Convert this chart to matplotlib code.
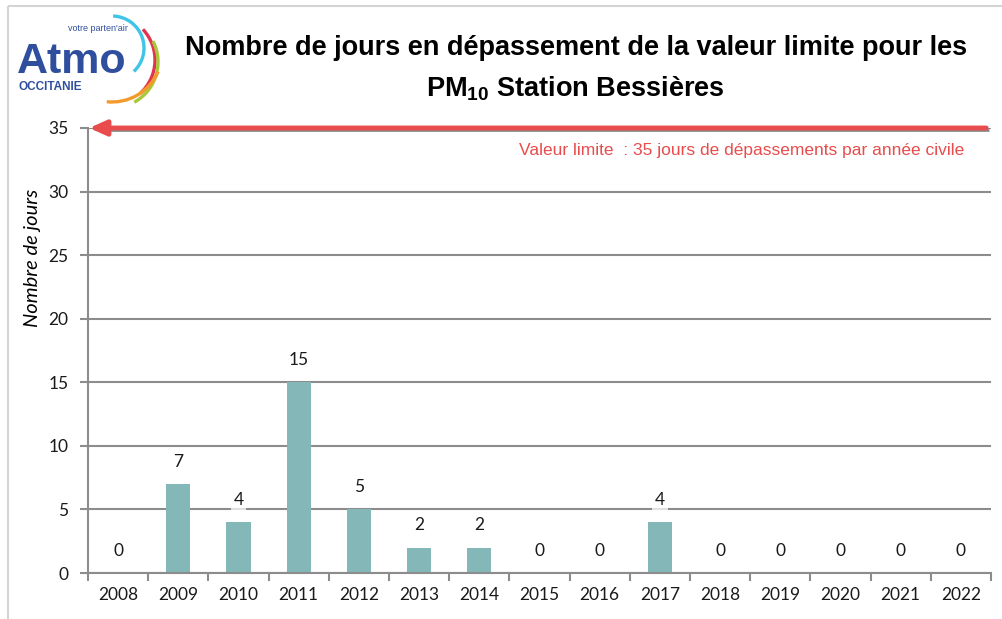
import matplotlib.pyplot as plt
from matplotlib.patches import Arc, Rectangle

plt.rcParams['mathtext.fontset'] = 'custom'
plt.rcParams['mathtext.bf'] = 'Liberation Sans:bold'
plt.rcParams['mathtext.rm'] = 'Liberation Sans'

# données : nombre de jours de dépassement PM10, station Bessières
annees = ['2008', '2009', '2010', '2011', '2012', '2013', '2014', '2015',
          '2016', '2017', '2018', '2019', '2020', '2021', '2022']
jours = [0, 7, 4, 15, 5, 2, 2, 0, 0, 4, 0, 0, 0, 0, 0]
valeur_limite = 35
yticks = [0, 5, 10, 15, 20, 25, 30, 35]

W, H = 1003, 619
fig = plt.figure(figsize=(W / 100, H / 100), dpi=100)

gris = '#8c8c8c'
rouge = '#e84c4c'
teal = '#84b8b8'
bleu = '#2f4f9e'

# cadre de fond
deco = fig.add_axes([0, 0, 1, 1])
deco.set_xlim(0, W)
deco.set_ylim(H, 0)
deco.axis('off')
deco.add_patch(Rectangle((8, 6), W, H, fill=False, ec='#d4d4d4', lw=1.5))

# logo Atmo Occitanie
deco.text(17, 73, 'Atmo', color=bleu, fontsize=31, fontweight='bold',
          family='Liberation Sans', va='baseline')
deco.text(19, 90, 'OCCITANIE', color=bleu, fontsize=8.5, fontweight='bold',
          family='Liberation Sans', va='baseline')
deco.text(128, 31, "votre parten'air", color=bleu, fontsize=6.5,
          family='Liberation Sans', ha='right', va='baseline')
# arcs colorés (centre, rayon, angle début, angle fin, couleur)
arcs = [((112, 48), 32, -47, 88, '#3ec4e8'),
        ((110, 60), 45, -48, 43, '#e2344f'),
        ((112, 62), 46, -61, 27, '#a8c83a'),
        ((112, 52), 50, -96, -23, '#f39a2b')]
for (cx, cy), r, t1, t2, c in arcs:
    deco.add_patch(Arc((cx, cy), 2 * r, 2 * r, theta1=-t2, theta2=-t1,
                       color=c, lw=2.4))

# titre
fig.text(0.574, 0.922, 'Nombre de jours en dépassement de la valeur limite pour les',
         ha='center', va='center', fontsize=19.5, fontweight='bold',
         family='Liberation Sans')
fig.text(0.574, 0.857, r'PM$_{\mathbf{10}}$ Station Bessières',
         ha='center', va='center', fontsize=19.5, fontweight='bold',
         family='Liberation Sans')

ax = fig.add_axes([88 / W, 1 - 573 / H, (991 - 88) / W, (573 - 128) / H])
x = list(range(len(annees)))
ax.bar(x, jours, width=0.4, color=teal, zorder=2)

ax.set_xlim(-0.5, len(annees) - 0.5)
ax.set_ylim(0, 35)
ax.set_yticks(yticks)
ax.set_xticks([i - 0.5 for i in range(len(annees) + 1)])
ax.set_xticklabels([])
ax.set_xticks(x, minor=True)
ax.set_xticklabels(annees, minor=True)
ax.tick_params(axis='x', which='minor', length=0, pad=10)
ax.tick_params(axis='x', which='major', length=6, color=gris, width=1.5)
ax.tick_params(axis='y', length=6, color=gris, width=1.5, pad=8)
for lab in ax.get_xticklabels(minor=True) + ax.get_yticklabels():
    lab.set_family('Lato')
    lab.set_fontsize(12.5)
    lab.set_color('#1a1a1a')

ax.grid(axis='y', color=gris, lw=1.5, zorder=0)
for s in ['top', 'right']:
    ax.spines[s].set_visible(False)
for s in ['left', 'bottom']:
    ax.spines[s].set_color(gris)
    ax.spines[s].set_linewidth(1.5)

ax.set_ylabel('Nombre de jours', fontsize=14.5, style='italic', family='Lato')
ax.yaxis.set_label_coords(-0.052, 0.708)

# étiquettes des valeurs
for xi, v in zip(x, jours):
    ax.annotate(str(v), (xi, v), xytext=(0, 16), textcoords='offset points',
                ha='center', va='center', fontsize=12.5, family='Lato',
                color='#1a1a1a', zorder=3,
                bbox=dict(boxstyle='square,pad=0.15', fc='white', ec='none', alpha=0.75))

# valeur limite (ombre grise + flèche rouge)
ax.plot([-0.3, 14.47], [valeur_limite - 0.12] * 2, color='#8a8a8a', lw=2.0,
        clip_on=False, zorder=4, solid_capstyle='butt')
ax.annotate('', xy=(-0.48, valeur_limite), xytext=(14.42, valeur_limite),
            arrowprops=dict(arrowstyle='-|>,head_length=1.0,head_width=0.45',
                            color=rouge, lw=3.5, shrinkA=0, shrinkB=0),
            annotation_clip=False, zorder=5)
ax.text(14.05, 33.2, 'Valeur limite  : 35 jours de dépassements par année civile',
        ha='right', va='center', color=rouge, fontsize=12.5,
        family='Liberation Sans')

fig.savefig('out.png', dpi=100)
